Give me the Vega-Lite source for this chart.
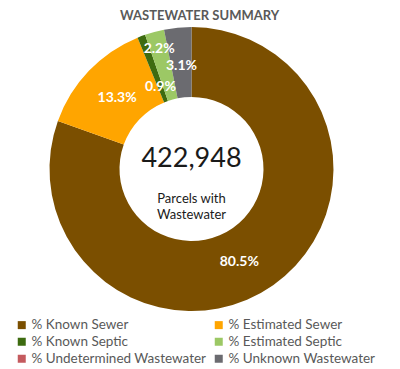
{
  "$schema": "https://vega.github.io/schema/vega-lite/v6.json",
  "width": 383,
  "height": 278,
  "autosize": "none",
  "padding": {"top": 30, "left": 0, "right": 17, "bottom": 61},
  "background": "white",
  "title": {
    "text": "WASTEWATER SUMMARY",
    "anchor": "middle",
    "dx": 8,
    "font": "Lato",
    "fontSize": 13,
    "fontWeight": "bold",
    "color": "#595959",
    "offset": 4
  },
  "config": {"view": {"stroke": null}, "font": "Lato"},
  "data": {
    "values": [
      {"category": "% Known Sewer", "idx": 1, "share": 0.805},
      {"category": "% Estimated Sewer", "idx": 2, "share": 0.133},
      {"category": "% Known Septic", "idx": 3, "share": 0.009},
      {"category": "% Estimated Septic", "idx": 4, "share": 0.022},
      {"category": "% Undetermined Wastewater", "idx": 5, "share": 0.0},
      {"category": "% Unknown Wastewater", "idx": 6, "share": 0.031}
    ]
  },
  "encoding": {
    "theta": {"field": "share", "type": "quantitative", "stack": true},
    "order": {"field": "idx", "type": "quantitative"}
  },
  "layer": [
    {
      "mark": {"type": "arc", "outerRadius": 142, "innerRadius": 72},
      "encoding": {
        "color": {
          "field": "category",
          "type": "nominal",
          "scale": {
            "domain": ["% Known Sewer", "% Known Septic", "% Undetermined Wastewater", "% Estimated Sewer", "% Estimated Septic", "% Unknown Wastewater"],
            "range": ["#7B4F00", "#3D6B10", "#C45A5E", "#FFA500", "#9CC865", "#6B6B70"]
          },
          "legend": {
            "title": null,
            "orient": "none",
            "legendX": 15,
            "legendY": 288,
            "columns": 2,
            "columnPadding": 5,
            "rowPadding": 2,
            "labelLimit": 300,
            "symbolType": "square",
            "symbolSize": 64,
            "symbolStrokeWidth": 0,
            "labelFont": "Lato",
            "labelFontSize": 13.5,
            "labelColor": "#595959",
            "labelOffset": 3
          }
        }
      }
    },
    {
      "mark": {"type": "text", "radius": 104, "dx": -12, "dy": 8, "font": "Lato", "fontSize": 14, "fontWeight": "bold", "color": "white"},
      "encoding": {
        "text": {"field": "share", "type": "quantitative", "format": ".1%", "condition": {"test": "datum.idx != 1", "value": ""}}
      }
    },
    {
      "mark": {"type": "text", "radius": 103, "font": "Lato", "fontSize": 14, "fontWeight": "bold", "color": "white"},
      "encoding": {
        "text": {"field": "share", "type": "quantitative", "format": ".1%", "condition": {"test": "datum.idx != 2 && datum.idx != 6", "value": ""}}
      }
    },
    {
      "mark": {"type": "text", "radius": 124, "font": "Lato", "fontSize": 14, "fontWeight": "bold", "color": "white"},
      "encoding": {
        "text": {"field": "share", "type": "quantitative", "format": ".1%", "condition": {"test": "datum.idx != 4", "value": ""}}
      }
    },
    {
      "mark": {"type": "text", "radius": 88, "font": "Lato", "fontSize": 14, "fontWeight": "bold", "color": "white"},
      "encoding": {
        "text": {"field": "share", "type": "quantitative", "format": ".1%", "condition": {"test": "datum.idx != 3", "value": ""}}
      }
    },
    {
      "data": {"values": [{"total": 422948, "caption": ["Parcels with", "Wastewater"]}]},
      "layer": [
        {
          "mark": {"type": "text", "font": "Lato", "fontSize": 27, "color": "#1A1A1A", "dy": -10},
          "encoding": {"text": {"field": "total", "type": "quantitative", "format": ","}, "theta": null, "order": null}
        },
        {
          "mark": {"type": "text", "font": "Lato", "fontSize": 13, "color": "#1A1A1A", "dy": 30, "lineHeight": 16},
          "encoding": {"text": {"field": "caption"}, "theta": null, "order": null}
        }
      ]
    }
  ]
}
